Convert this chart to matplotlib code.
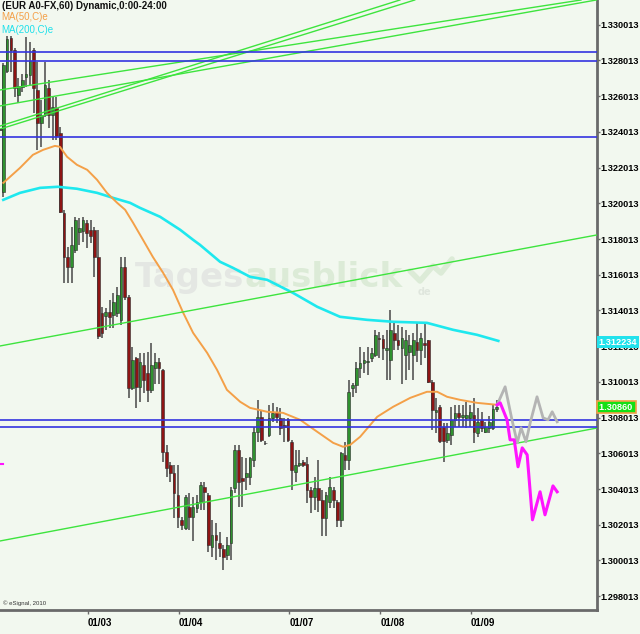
import matplotlib
matplotlib.use('Agg')
import matplotlib.pyplot as plt
from matplotlib.transforms import blended_transform_factory
import numpy as np

# ---------------- data ----------------
opens = [1.32065,1.32742,1.32927,1.3286,1.32608,1.32653,1.32709,1.3272,1.3286,1.32636,
1.32451,1.32496,1.32647,1.32496,1.32535,1.32395,1.31947,1.31701,1.31645,1.3174,
1.31841,1.31846,1.31891,1.31852,1.31852,1.31701,1.31387,1.3137,1.31393,1.31376,
1.31387,1.31348,1.31645,1.31477,1.30967,1.31135,1.30973,1.31096,1.31051,1.30956,
1.31079,1.31113,1.31068,1.30609,1.30536,1.30491,1.30368,1.30228,1.30183,1.30301,
1.30245,1.30295,1.30329,1.30413,1.30368,1.30077,1.30144,1.30099,1.30066,1.30032,
1.30099,1.30407,1.3062,1.30463,1.30469,1.30469,1.30564,1.30721,1.30805,1.30659,
1.30704,1.30799,1.30833,1.30799,1.3076,1.30794,1.30665,1.30497,1.30536,1.30553,
1.30542,1.30396,1.30357,1.30407,1.3034,1.30239,1.30329,1.30396,1.30329,1.30228,
1.30592,1.30564,1.30967,1.30984,1.31079,1.31107,1.31113,1.31135,1.31152,1.31247,
1.31242,1.3118,1.31124,1.31275,1.31236,1.31191,1.31152,1.31169,1.31152,1.31225,
1.3118,1.31219,1.31236,1.31001,1.30833,1.30861,1.30749,1.30676,1.30704,1.30788,
1.30827,1.30805,1.30799,1.30799,1.30816,1.30715,1.30788,1.30721,1.30743,1.30743,
1.3085]
highs = [1.32787,1.32938,1.32938,1.32871,1.32703,1.32726,1.32933,1.32905,1.32871,1.32793,
1.3258,1.32793,1.32692,1.32597,1.32597,1.32429,1.31964,1.31757,1.31869,1.31925,
1.31919,1.31925,1.31908,1.31908,1.31869,1.31852,1.31421,1.31415,1.3146,1.31499,
1.31533,1.31701,1.31701,1.31488,1.31197,1.31141,1.31163,1.31163,1.31169,1.31219,
1.31163,1.31135,1.31074,1.30648,1.30553,1.30536,1.30536,1.30245,1.30368,1.3038,
1.30357,1.30368,1.30441,1.30441,1.3038,1.30228,1.30211,1.30161,1.30088,1.30133,
1.30413,1.30648,1.30648,1.30581,1.30575,1.30581,1.30749,1.3090,1.30844,1.3067,
1.30872,1.30883,1.30861,1.30855,1.30799,1.30799,1.30676,1.3062,1.3062,1.30564,
1.30581,1.30413,1.30469,1.30564,1.30396,1.30385,1.30469,1.30413,1.3034,1.30609,
1.30665,1.31012,1.30995,1.31113,1.31197,1.31169,1.31197,1.31191,1.31292,1.31281,
1.31264,1.31292,1.31404,1.31337,1.3132,1.31309,1.31292,1.31264,1.31275,1.31331,
1.31275,1.31331,1.31236,1.31012,1.30911,1.30872,1.30771,1.30771,1.30861,1.30872,
1.30872,1.30872,1.30889,1.30872,1.30911,1.30855,1.30833,1.30777,1.30811,1.30872,
1.3090]
lows = [1.32037,1.32731,1.32737,1.32597,1.32563,1.32625,1.32653,1.32664,1.32507,1.3230,
1.32317,1.32485,1.32423,1.32356,1.32356,1.31947,1.31555,1.31555,1.31555,1.31723,
1.31768,1.31785,1.31751,1.3178,1.31589,1.3124,1.31247,1.31292,1.31303,1.31303,
1.31365,1.3132,1.3146,1.30911,1.30956,1.30855,1.30889,1.30939,1.30889,1.30939,
1.30989,1.30989,1.30553,1.30469,1.30441,1.30239,1.30183,1.30172,1.30172,1.30172,
1.30111,1.30267,1.30284,1.30284,1.30049,1.30021,1.30004,1.30021,1.29948,1.30004,
1.30004,1.30379,1.30301,1.30301,1.30396,1.30424,1.30525,1.30665,1.30665,1.30648,
1.30693,1.30777,1.30771,1.30704,1.30665,1.30665,1.30396,1.30441,1.30525,1.30525,
1.30323,1.30267,1.30284,1.30273,1.3014,1.3014,1.30295,1.30295,1.30189,1.30189,
1.30508,1.30508,1.30917,1.30939,1.31023,1.31051,1.3104,1.31113,1.31141,1.31135,
1.31124,1.31012,1.31012,1.3118,1.3118,1.30989,1.31012,1.31068,1.31012,1.31113,
1.31096,1.31135,1.30995,1.3073,1.30715,1.30659,1.30553,1.30659,1.30648,1.30749,
1.30749,1.30749,1.30743,1.30749,1.30659,1.30693,1.30721,1.30715,1.30715,1.30732,
1.30833]
closes = [1.32776,1.32922,1.3286,1.32647,1.32658,1.32692,1.32726,1.3280,1.32647,1.32451,
1.32496,1.32664,1.32496,1.32541,1.3238,1.31953,1.31701,1.31645,1.31768,1.31908,
1.31863,1.31908,1.31835,1.3182,1.31701,1.3126,1.31275,1.31393,1.31365,1.31449,
1.31488,1.31645,1.31477,1.30967,1.31124,1.30973,1.31113,1.31012,1.30956,1.31096,
1.31113,1.31079,1.30609,1.30519,1.30491,1.30379,1.30245,1.302,1.30357,1.30245,
1.30301,1.30329,1.30424,1.30385,1.30088,1.30144,1.30116,1.30071,1.30021,1.30088,
1.30396,1.3062,1.30441,1.30446,1.30491,1.30575,1.30721,1.30805,1.30676,1.30659,
1.30799,1.30827,1.30805,1.30743,1.30749,1.30676,1.30508,1.30536,1.30547,1.30536,
1.30396,1.30357,1.30407,1.3034,1.30239,1.30368,1.30413,1.3034,1.30228,1.30603,
1.30564,1.30945,1.30984,1.31079,1.31107,1.31124,1.31118,1.31163,1.31264,1.31242,
1.31191,1.31191,1.31292,1.31236,1.31208,1.31247,1.31236,1.31208,1.31236,1.3118,
1.31247,1.31208,1.31001,1.30844,1.30844,1.3067,1.3067,1.30715,1.30788,1.30827,
1.30805,1.30816,1.30816,1.30833,1.30721,1.30777,1.30743,1.30749,1.30777,1.3085,
1.3086]

ma50_x = [0,4.4,7.8,10.5,13.6,14.9,16.8,19.4,22.1,24.7,27.3,30.0,32.1,34.2,36.8,39.4,42.1,44.7,
          47.4,50.0,53.7,56.3,58.9,62.4,65.0,69.5,73.7,78.2,82.7,86.9,89.5,91.4,94.0,98.5,102.7,
          107.2,111.6,114.3,116.9,120.3,124.8,130.1]
ma50 = [1.32116,1.32200,1.32273,1.32301,1.32323,1.32318,1.32262,1.32217,1.32189,1.32133,1.32060,
        1.32004,1.31965,1.31892,1.31797,1.31701,1.31612,1.31517,1.31388,1.31276,1.31164,1.31069,
        1.30957,1.30890,1.30856,1.30834,1.30828,1.30789,1.30722,1.30660,1.30638,1.30649,1.30694,
        1.30806,1.30862,1.30912,1.30946,1.30946,1.30918,1.30901,1.30884,1.30873]
ma200_x = [0,4.4,9.7,14.4,19.4,24.7,28.9,33.4,36.0,41.3,46.6,50.0,51.8,57.1,60.5,65.0,69.5,76.3,
           82.7,88.7,95.8,102.7,111.6,118.5,124.8,130.4]
ma200 = [1.32021,1.32060,1.32088,1.32094,1.32083,1.32060,1.32032,1.32004,1.31976,1.31926,1.31853,
         1.31797,1.31769,1.31674,1.31640,1.31590,1.31573,1.31500,1.31422,1.31366,1.31349,1.31338,
         1.31332,1.31293,1.31265,1.31231]

proj_grey_x = [130.1,132.2,134.0,135.4,136.4,137.7,138.8,140.6,142.2,143.5,144.6,145.9]
proj_grey = [1.30873,1.30974,1.30789,1.30660,1.30744,1.30666,1.30772,1.30918,1.30800,1.30789,1.30834,1.30778]
proj_mag_x = [130.1,130.9,132.7,133.5,134.6,135.6,136.7,138.0,139.4,141.4,142.7,144.8,145.9]
proj_mag = [1.30873,1.30884,1.30789,1.30677,1.30677,1.30526,1.30632,1.30593,1.30229,1.30386,1.30257,1.30419,1.30386]

support_levels = [1.32850, 1.32798, 1.32374, 1.30786, 1.30750]
# trend lines: price at candle 0 and at candle 130
trend_lines = [(1.30114, 1.30637), (1.31206, 1.31720),
               (1.32639, 1.33067), (1.32550, 1.33041), (1.32440, 1.33311), (1.32423, 1.33283)]

ytick_vals = [1.298013,1.300013,1.302013,1.304013,1.306013,1.308013,1.310013,1.312013,1.314013,
              1.316013,1.318013,1.320013,1.322013,1.324013,1.326013,1.328013,1.330013]
xtick_pos = [22.3, 46.3, 75.3, 99.3, 123.2]
xtick_labels = ['01/03', '01/04', '01/07', '01/08', '01/09']
last_ma200 = '1.312234'
last_close = '1.30860'

# ---------------- plot ----------------
BG = '#f2f8ef'
fig = plt.figure(figsize=(6.4, 6.34), dpi=100, facecolor=BG)
ax = fig.add_axes([0, 24/634, 597/640, 610/634])
ax.set_facecolor(BG)
ax.set_xlim(-0.87, 156.4)
ax.set_ylim(1.29724, 1.3314)

# watermark
wm_font = dict(family='DejaVu Sans', fontweight='bold', fontsize=24.5)
t1 = ax.text(0.226, 0.5295, 'Tages', transform=ax.transAxes, color='#e4e7e3', va='baseline',
             ha='left', zorder=1, **wm_font)
ax.annotate('ausblick', xy=(1, 0), xycoords=t1, va='bottom', ha='left', color='#dcebd7',
            zorder=1, **wm_font)
icon = np.array([[410, 271], [420, 281], [433, 266], [441, 273], [452, 259]])
ax.plot(icon[:, 0]/597, (610-icon[:, 1])/610, transform=ax.transAxes, color='#dcebd7',
        lw=4, solid_capstyle='round', zorder=1)
ax.text(418/597, (610-292)/610, 'de', transform=ax.transAxes, fontsize=7, fontweight='bold',
        color='#dfe6dd', va='center', zorder=1)

idx = np.arange(len(opens))
o = np.array(opens); h = np.array(highs); l = np.array(lows); c = np.array(closes)
up = c >= o
ax.vlines(idx, l, h, color='#555555', lw=1.2, zorder=2)
bottom = np.minimum(o, c)
height = np.maximum(np.abs(c - o), 0.00003)
ax.bar(idx, height, bottom=bottom, width=0.72,
       color=['#2f922f' if u else '#8e1414' for u in up],
       edgecolor='#2a2a2a', linewidth=0.4, zorder=2.5)

ax.plot(ma200_x, ma200, color='#1ee8ee', lw=1.9, zorder=3)
ax.plot(ma50_x, ma50, color='#f4a048', lw=1.4, zorder=3.1)

for p0, p1 in trend_lines:
    ax.axline((0, p0), (130, p1), color='#3ee43e', lw=1.0, zorder=3.2)
for p in support_levels:
    ax.axhline(p, color='#3434e0', lw=1.2, zorder=4)

ax.plot(proj_grey_x, proj_grey, color='#b4b4b4', lw=2, zorder=5)
ax.plot(proj_mag_x, proj_mag, color='#ff14ff', lw=2.2, zorder=5.1)

# left edge markers
ax.plot([-0.87, -0.1], [1.30542, 1.30542], color='#ff14ff', lw=1.5, zorder=5, clip_on=False)
ax.plot([-0.87, -0.3], [1.32412, 1.32412], color='#333333', lw=1.2, zorder=5, clip_on=False)

# axes styling
for s in ['left', 'top']:
    ax.spines[s].set_visible(False)
for s in ['right', 'bottom']:
    ax.spines[s].set_color('#6a6a6a')
    ax.spines[s].set_linewidth(2)
ax.yaxis.tick_right()
ax.set_yticks(ytick_vals)
ax.set_yticklabels([f'{v:.6f}' for v in ytick_vals], fontsize=6.6, fontweight='bold',
                   family='Liberation Sans')
ax.tick_params(axis='y', length=2, width=1, color='#6a6a6a', pad=0.5)
ax.set_xticks(xtick_pos)
ax.set_xticklabels(xtick_labels, fontsize=7, fontweight='bold', family='Liberation Sans', ha='left')
ax.tick_params(axis='x', length=3, width=1, color='#6a6a6a', pad=3)

# last value boxes
tr = blended_transform_factory(ax.transAxes, ax.transData)
ax.text(1.003, 1.312234, last_ma200, transform=tr, ha='left', va='center', color='white',
        fontsize=6.6, fontweight='bold', family='Liberation Sans', clip_on=False, zorder=10,
        bbox=dict(boxstyle='square,pad=0.15', fc='#22e2ec', ec='none'))
ax.text(1.003, 1.30860, last_close + ' ', transform=tr, ha='left', va='center', color='white',
        fontsize=6.6, fontweight='bold', family='Liberation Sans', clip_on=False, zorder=10,
        bbox=dict(boxstyle='square,pad=0.15', fc='#14e014', ec='#f4a048', lw=1.2))

# header texts
fig.text(2/640, 1-6/634, '(EUR A0-FX,60) Dynamic,0:00-24:00', fontsize=7, fontweight='bold',
         family='Liberation Sans', va='center', ha='left', color='#111111')
fig.text(1/640, 1-17/634, 'MA(50,C)e', fontsize=7, family='Liberation Sans', va='center',
         ha='left', color='#f4a048')
fig.text(1/640, 1-30/634, 'MA(200,C)e', fontsize=7, family='Liberation Sans', va='center',
         ha='left', color='#1ee0ea')
fig.text(3/640, 1-603/634, '\u00a9 eSignal, 2010', fontsize=4.3, family='Liberation Sans',
         va='center', ha='left', color='#333333')

fig.savefig('out.png', dpi=100, facecolor=BG)
